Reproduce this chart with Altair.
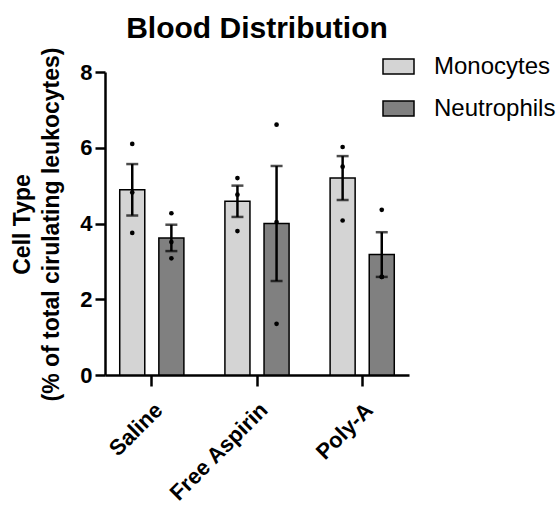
import altair as alt
import pandas as pd

# Blood distribution of monocytes and neutrophils per treatment (3 animals each)
treatments = ["Saline", "Free Aspirin", "Poly-A"]
cell_types = ["Monocytes", "Neutrophils"]
monocytes = [[6.10, 4.82, 3.75], [5.20, 4.76, 3.80], [6.02, 5.50, 4.08]]
neutrophils = [[4.27, 3.51, 3.08], [6.61, 4.04, 1.35], [4.36, 2.59, 2.59]]
fill_colors = ["#d4d4d4", "#808080"]

rows = []
for t, mono, neut in zip(treatments, monocytes, neutrophils):
    for v in mono:
        rows.append({"treatment": t, "cell": "Monocytes", "value": v})
    for v in neut:
        rows.append({"treatment": t, "cell": "Neutrophils", "value": v})
df = pd.DataFrame(rows)

FONT = "Liberation Sans, Arial, sans-serif"

x_enc = alt.X(
    "treatment:N",
    sort=treatments,
    scale=alt.Scale(paddingInner=0.39, paddingOuter=0.14),
    axis=alt.Axis(
        title=None,
        labelAngle=-45,
        labelFontSize=22,
        labelPadding=13,
        tickSize=11,
    ),
)
x_plain = alt.X("treatment:N", sort=treatments)
off_enc = alt.XOffset(
    "cell:N", sort=cell_types, scale=alt.Scale(paddingInner=0.36, paddingOuter=0)
)
y_scale = alt.Scale(domain=[0, 8])
y_axis = alt.Axis(
    title=["Cell Type", "(% of total cirulating leukocytes)"],
    titleFont=FONT,
    titleFontSize=23,
    titleFontWeight="bold",
    titleColor="black",
    titleLineHeight=29,
    titleAngle=-90,
    titleAlign="center",
    titleBaseline="alphabetic",
    titleX=-76,
    titleY=152,
    values=[0, 2, 4, 6, 8],
    labelFontSize=22,
    labelPadding=3,
    tickSize=10,
)

base = alt.Chart(df)

bars = base.mark_bar(stroke="black", strokeWidth=1.5).encode(
    x=x_enc,
    xOffset=off_enc,
    y=alt.Y("mean(value):Q", scale=y_scale, axis=y_axis),
    color=alt.Color(
        "cell:N",
        sort=cell_types,
        scale=alt.Scale(domain=cell_types, range=fill_colors),
        legend=alt.Legend(
            title=None,
            orient="none",
            legendX=277,
            legendY=-22,
            padding=0,
            labelFont=FONT,
            labelFontSize=24,
            labelColor="black",
            labelOffset=19,
            rowPadding=13,
            symbolType="M-1,-0.484H1V0.484H-1Z",
            symbolSize=961,
            symbolStrokeColor="black",
            symbolStrokeWidth=1.5,
            symbolOpacity=1,
        ),
    ),
)

# mean +/- standard error of the mean
stats = base.transform_aggregate(
    mean="mean(value)", sem="stderr(value)", groupby=["treatment", "cell"]
).transform_calculate(
    lo="datum.mean - datum.sem", hi="datum.mean + datum.sem"
)

err_rule = stats.mark_rule(color="black", strokeWidth=2.5).encode(
    x=x_plain,
    xOffset=off_enc,
    y=alt.Y("lo:Q", scale=y_scale),
    y2="hi:Q",
)
cap_lo = stats.mark_tick(color="black", thickness=2.5, size=12, orient="horizontal").encode(
    x=x_plain,
    xOffset=off_enc,
    y=alt.Y("lo:Q", scale=y_scale),
)
cap_hi = stats.mark_tick(color="black", thickness=2.5, size=12, orient="horizontal").encode(
    x=x_plain,
    xOffset=off_enc,
    y=alt.Y("hi:Q", scale=y_scale),
)

points = base.mark_circle(color="black", opacity=1, size=22).encode(
    x=x_plain,
    xOffset=off_enc,
    y=alt.Y("value:Q", scale=y_scale),
)

chart = (
    alt.layer(bars, err_rule, cap_lo, cap_hi, points)
    .properties(
        width=304,
        height=303,
        autosize=alt.AutoSizeParams(type="none"),
        padding={"left": 105, "top": 72, "right": 149, "bottom": 131},
        title=alt.TitleParams(
            "Blood Distribution",
            font=FONT,
            fontSize=30,
            fontWeight="bold",
            color="black",
            anchor="middle",
            offset=3,
        ),
    )
    .configure(background="white")
    .configure_view(strokeWidth=0)
    .configure_axis(
        grid=False,
        labelFont=FONT,
        labelFontWeight="bold",
        labelColor="black",
        tickColor="black",
        tickWidth=2.5,
        domainColor="black",
        domainWidth=2.5,
    )
)

chart.save("out.html", embed_options={"renderer": "svg", "actions": False})
